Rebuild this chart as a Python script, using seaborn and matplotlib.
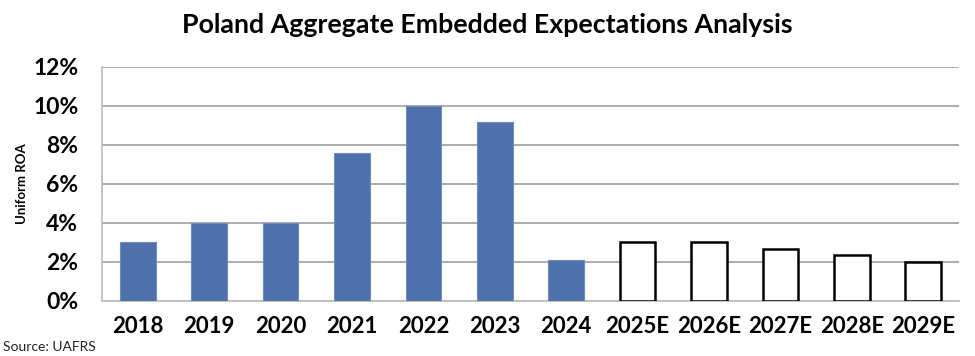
import matplotlib
matplotlib.use("Agg")
import matplotlib.pyplot as plt
import seaborn as sns
import pandas as pd
from matplotlib.ticker import PercentFormatter

years = ["2018", "2019", "2020", "2021", "2022", "2023", "2024",
         "2025E", "2026E", "2027E", "2028E", "2029E"]
roa = [3.0, 4.0, 4.0, 7.6, 10.0, 9.2, 2.1, 3.0, 3.0, 2.65, 2.35, 2.0]
kind = ["actual"] * 7 + ["estimate"] * 5

df = pd.DataFrame({"year": years, "roa": roa, "kind": kind})

sns.set_theme(style="white")
plt.rcParams["font.family"] = ["Lato", "DejaVu Sans"]

fig = plt.figure(figsize=(9.75, 3.56), dpi=100)
ax = fig.add_axes([0.1046, 0.1545, 0.8790, 0.6573])

blue = "#4E70AB"
sns.barplot(data=df, x="year", y="roa", ax=ax, width=0.5,
            color=blue, saturation=1, zorder=3)

for patch, k in zip(ax.patches, df["kind"]):
    if k == "estimate":
        patch.set_facecolor("white")
        patch.set_edgecolor("black")
        patch.set_linewidth(1.8)
    else:
        patch.set_edgecolor("#6F8CC0")
        patch.set_linewidth(0.8)

ax.set_ylim(0, 12)
ax.set_xlim(-0.5, len(years) - 0.5)
ax.set_yticks(range(0, 13, 2))
ax.yaxis.set_major_formatter(PercentFormatter(decimals=0))
ax.grid(axis="y", color="#A6A6A6", linewidth=1.3, zorder=0)
ax.set_axisbelow(True)

for s in ["top", "right"]:
    ax.spines[s].set_visible(False)
for s in ["left", "bottom"]:
    ax.spines[s].set_color("#BFBFBF")
    ax.spines[s].set_linewidth(1.3)

ax.tick_params(axis="y", length=0, pad=17, labelsize=16.5)
ax.tick_params(axis="x", length=0, pad=11, labelsize=16)
for lab in ax.get_xticklabels() + ax.get_yticklabels():
    lab.set_fontweight("bold")
    lab.set_color("black")

ax.set_xlabel("")
ax.set_ylabel("")
fig.text(22 / 975, 1 - 184 / 356, "Uniform ROA", rotation=90, ha="center", va="center",
         fontsize=9.5, fontweight="bold", color="black")

fig.text(0.5, 0.93, "Poland Aggregate Embedded Expectations Analysis",
         ha="center", va="center", fontsize=19.3, fontweight="bold", color="black")
fig.text(0.003, 0.025, "Source: UAFRS", ha="left", va="center", fontsize=10, color="#222222")

fig.savefig("out.png", dpi=100)
